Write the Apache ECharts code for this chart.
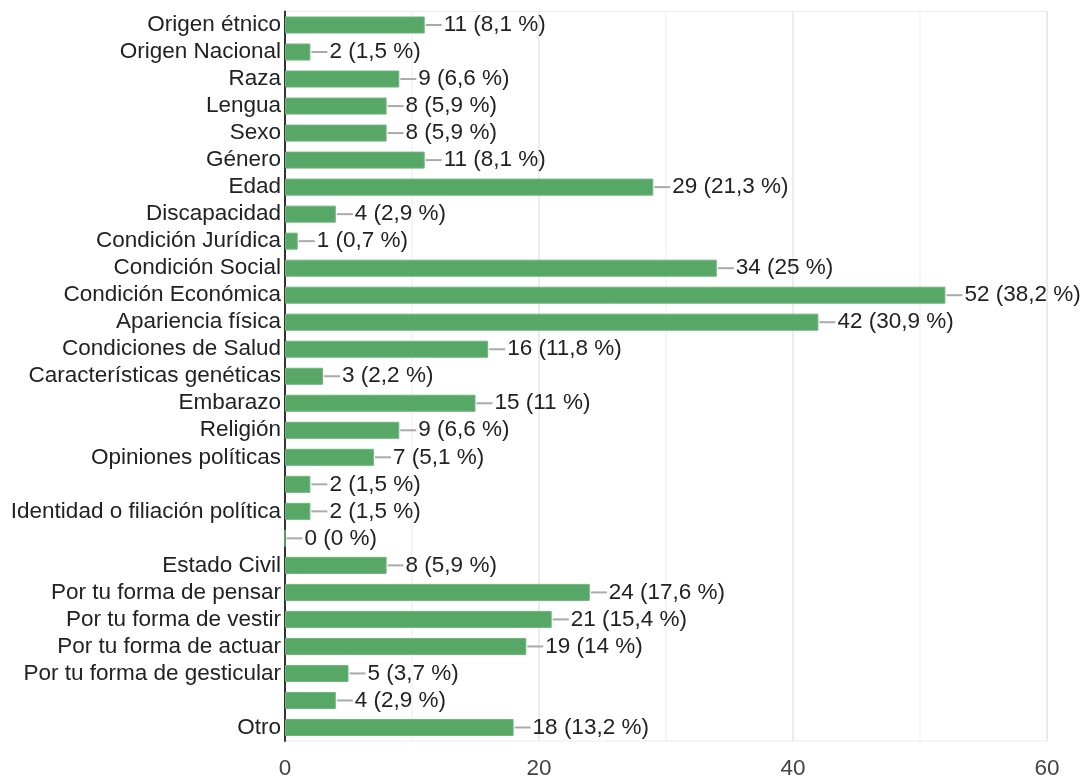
<!DOCTYPE html>
<html>
<head>
<meta charset="utf-8">
<script src="https://cdn.jsdelivr.net/npm/echarts@6/dist/echarts.min.js"></script>
<style>
  html, body { margin: 0; padding: 0; background: #fff; }
  #chart { width: 1083px; height: 780px; }
</style>
</head>
<body>
<div id="chart"></div>
<script>
// Motivos de discriminación: respuestas por categoría
const categories = [
  'Origen étnico', 'Origen Nacional', 'Raza', 'Lengua', 'Sexo', 'Género', 'Edad',
  'Discapacidad', 'Condición Jurídica', 'Condición Social', 'Condición Económica',
  'Apariencia física', 'Condiciones de Salud', 'Características genéticas', 'Embarazo',
  'Religión', 'Opiniones políticas', '', 'Identidad o filiación política', '',
  'Estado Civil', 'Por tu forma de pensar', 'Por tu forma de vestir',
  'Por tu forma de actuar', 'Por tu forma de gesticular', '', 'Otro'
];
const counts = [11, 2, 9, 8, 8, 11, 29, 4, 1, 34, 52, 42, 16, 3, 15, 9, 7, 2, 2, 0, 8, 24, 21, 19, 5, 4, 18];
const percents = ['8,1', '1,5', '6,6', '5,9', '5,9', '8,1', '21,3', '2,9', '0,7', '25', '38,2',
  '30,9', '11,8', '2,2', '11', '6,6', '5,1', '1,5', '1,5', '0', '5,9', '17,6', '15,4', '14',
  '3,7', '2,9', '13,2'];
const xTicks = [0, 20, 40, 60];

const chart = echarts.init(document.getElementById('chart'));
const font = 'Liberation Sans, Arial, sans-serif';
const fs = 22.5;

chart.setOption({
  animation: false,
  grid: {
    left: 285, right: 36, top: 11.5, bottom: 35.5,
    show: true, borderColor: '#ececec', borderWidth: 1
  },
  xAxis: {
    type: 'value',
    min: xTicks[0], max: xTicks[xTicks.length - 1], interval: 20,
    axisLine: { show: false },
    axisTick: { show: false },
    axisLabel: { fontFamily: font, fontSize: fs, color: '#444', margin: 16 },
    splitLine: { show: true, lineStyle: { color: '#e6e6e6', width: 1.5 } },
    minorTick: { show: false, splitNumber: 2 },
    minorSplitLine: { show: true, lineStyle: { color: '#f3f3f3', width: 1.5 } }
  },
  yAxis: {
    type: 'category',
    data: categories,
    inverse: true,
    axisLine: { show: true, lineStyle: { color: '#333', width: 2 } },
    axisTick: { show: false },
    axisLabel: { interval: 0, fontFamily: font, fontSize: fs, color: '#222', margin: 4 },
    splitLine: { show: false }
  },
  series: [{
    type: 'bar',
    data: counts,
    barCategoryGap: '37%',
    itemStyle: { color: '#57a767', borderColor: '#6fb67d', borderWidth: 1 },
    label: {
      show: true,
      position: 'right',
      distance: 1,
      formatter: p => '{l|}{t|' + p.value + ' (' + percents[p.dataIndex] + ' %)}',
      rich: {
        l: { width: 16, height: 2, backgroundColor: '#aaa' },
        t: { fontFamily: font, fontSize: fs, color: '#222', padding: [0, 0, 0, 2] }
      }
    }
  }]
});
</script>
</body>
</html>
